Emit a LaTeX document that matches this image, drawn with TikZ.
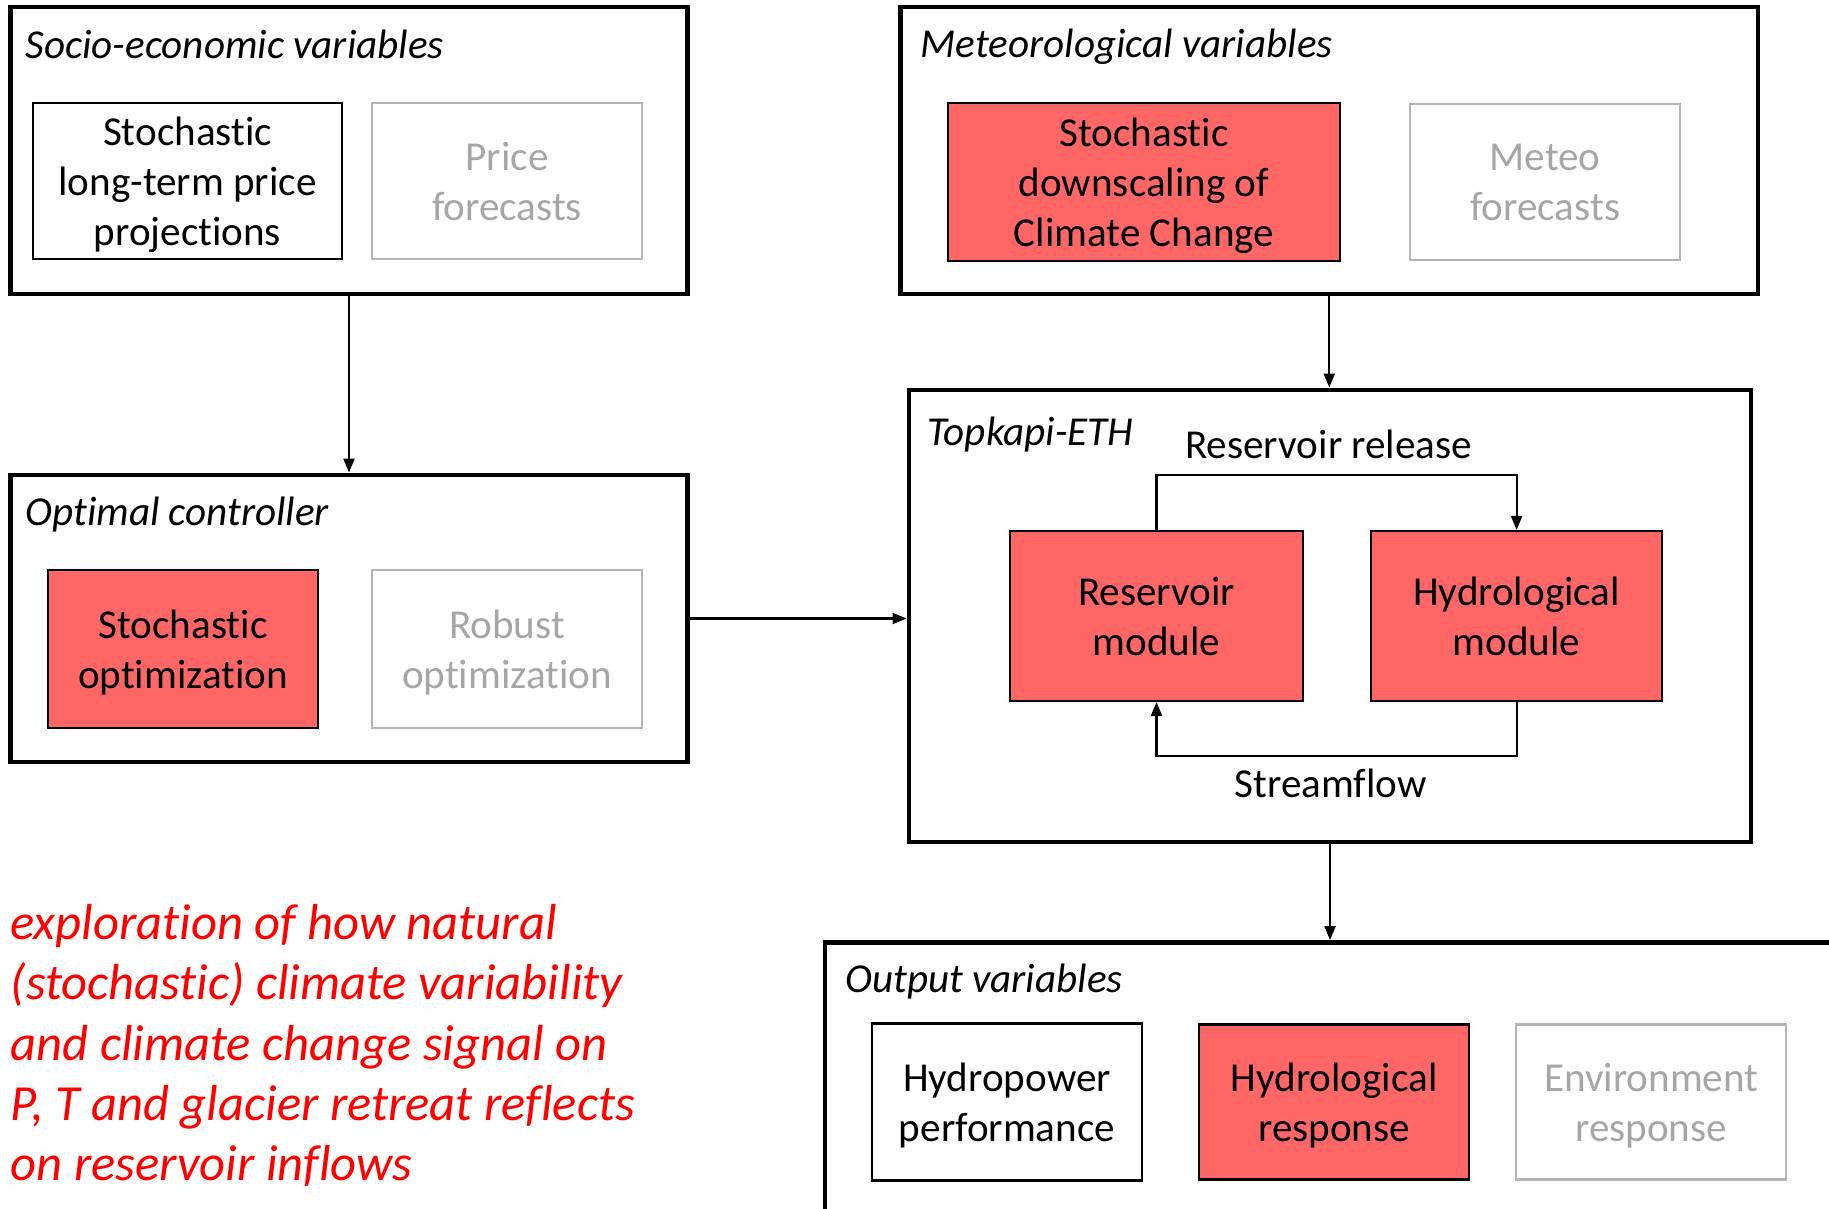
\documentclass[tikz,border=0pt]{standalone}
\usepackage{fontspec}
\setmainfont{Carlito}[Ligatures=NoCommon]
\usetikzlibrary{positioning,arrows.meta}
\definecolor{modred}{HTML}{FF6666}
\definecolor{fadegray}{HTML}{A6A6A6}
\definecolor{fadeline}{HTML}{B4B4B4}
\begin{document}
\begin{tikzpicture}[x=0.1mm, y=-0.1mm]
    \tikzstyle{group} = [rectangle, draw=black, line width=1.4pt,
        minimum height=28.7mm, inner sep=0pt]
    \tikzstyle{grouptitle} = [anchor=base west, inner sep=0pt,
        font=\fontsize{11.7}{14.2}\selectfont\itshape]
    \tikzstyle{module} = [rectangle, draw=black, line width=0.6pt, align=center,
        minimum width=27mm, minimum height=15.7mm, text depth=0pt,
        font=\fontsize{11.7}{14.2}\selectfont]
    \tikzstyle{hot} = [module, fill=modred]
    \tikzstyle{faded} = [module, draw=fadeline, text=fadegray]
    \tikzstyle{arrow} = [line width=0.6pt, ->, >={Triangle[length=1.4mm, width=1.1mm]}]
    \tikzstyle{flowlabel} = [font=\fontsize{11.7}{14.2}\selectfont]

    \useasboundingbox (0,0) rectangle (1829,1208);
    \clip (0,0) rectangle (1829,1208);

    % Groupes
    \node (socio) [group, minimum width=67.75mm] at (349,150.5) {};
    \node (meteo) [group, minimum width=85.75mm] at (1329.25,150.5) {};
    \node (ctrl) [group, minimum width=67.75mm] at (349,618.5) {};
    \node (topk) [group, minimum width=84.2mm, minimum height=45.2mm] at (1330,616) {};
    \node (outv) [group, minimum width=102.5mm] at (1337.5,1086) {};

    \node (sociot) [grouptitle] at ([shift={(17,54)}]socio.north west) {Socio-economic variables};
    \node (meteot) [grouptitle] at ([shift={(22,53)}]meteo.north west) {Meteorological variables};
    \node (ctrlt) [grouptitle] at ([shift={(17,53)}]ctrl.north west) {Optimal controller};
    \node (topkt) [grouptitle] at ([shift={(20,58)}]topk.north west) {Topkapi-ETH};
    \node (outvt) [grouptitle] at ([shift={(22,52)}]outv.north west) {Output variables};

    % Modules
    \node (price) [module, minimum width=30.9mm, minimum height=15.6mm] at (187.5,181)
        {Stochastic\\long-term price\\projections};
    \node (pricef) [faded, minimum height=15.6mm, right=2.8mm of price] {Price\\forecasts};
    \node (down) [hot, minimum width=39.2mm, minimum height=15.8mm] at (1144,182)
        {Stochastic\\downscaling of\\Climate Change};
    \node (meteof) [faded, minimum height=15.6mm, right=6.8mm of down] {Meteo\\forecasts};
    \node (stopt) [hot, minimum height=15.8mm] at (183,649) {Stochastic\\optimization};
    \node (robopt) [faded, minimum height=15.8mm, right=5.2mm of stopt] {Robust\\optimization};
    \node (resmod) [hot, minimum width=29.3mm, minimum height=17mm] at (1156.5,616)
        {Reservoir\\module};
    \node (hydmod) [hot, minimum width=29.1mm, minimum height=17mm, right=6.6mm of resmod]
        {Hydrological\\module};
    \node (hydpow) [module] at (1007,1102) {Hydropower\\performance};
    \node (hydresp) [hot, minimum height=15.5mm, right=5.5mm of hydpow] {Hydrological\\response};
    \node (envresp) [faded, minimum height=15.5mm, right=4.5mm of hydresp] {Environment\\response};

    % Liaisons
    \draw [arrow] (socio) -- (ctrl);
    \draw [arrow] (meteo.south) -- (meteo.south |- topk.north);
    \draw [arrow] (ctrl.east) -- (ctrl.east -| topk.west);
    \draw [arrow] (topk.south) -- (topk.south |- outv.north);
    \draw [arrow] (resmod.north) -- ++(0,-55) -| node[flowlabel, pos=0.239, above=0.35mm]
        {Reservoir release} (hydmod.north);
    \draw [arrow] (hydmod.south) -- ++(0,54) -| node[flowlabel, pos=0.258, below]
        {Streamflow} (resmod.south);

    \node (note) [anchor=north west, inner sep=0pt, align=left, text=red,
        font=\fontsize{14.4}{17.1}\selectfont\itshape] at (10,904)
        {exploration of how natural\\(stochastic) climate variability\\and climate change signal on\\P, T and glacier retreat reflects\\on reservoir inflows};
\end{tikzpicture}
\end{document}
